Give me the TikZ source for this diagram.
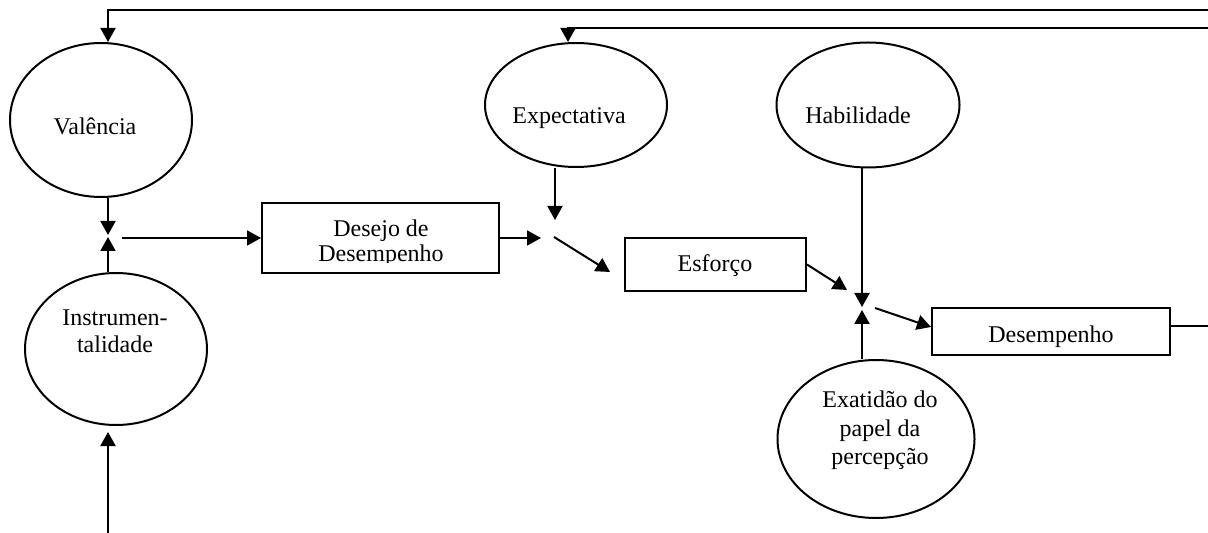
\documentclass[tikz,border=0pt]{standalone}
\usepackage{fontspec}
\setmainfont{Liberation Serif}
\usetikzlibrary{shapes.geometric,arrows.meta}
\begin{document}
\begin{tikzpicture}[x=0.5pt,y=-0.5pt,
  line width=1pt,
  oval/.style={draw,ellipse,inner sep=0pt},
  box/.style={draw,rectangle,inner sep=0pt},
  lbl/.style={font=\fontsize{12}{13.5}\selectfont,align=center,inner sep=0pt,anchor=base},
  arr/.style={-{Triangle[length=7pt,width=7.5pt]}}]
\useasboundingbox (0,0) rectangle (1208,533);
% shapes
\node[oval,minimum width=91pt,minimum height=77pt] (val) at (101,120) {};
\node[oval,minimum width=91pt,minimum height=76pt] (ins) at (116,349) {};
\node[oval,minimum width=91pt,minimum height=62pt] (exp) at (576,105) {};
\node[oval,minimum width=91.5pt,minimum height=62.5pt] (hab) at (868,105) {};
\node[oval,minimum width=98.5pt,minimum height=79pt] (exa) at (876,439) {};
\node[box,minimum width=118.5pt,minimum height=35pt] (dd) at (380.5,238) {};
\node[box,minimum width=90.5pt,minimum height=26.5pt] (esf) at (715.5,264.5) {};
\node[box,minimum width=119pt,minimum height=23.5pt] (des) at (1051,331.5) {};
% texts (multi-line: anchor at last baseline)
\node[lbl] (valt) at (95,135) {Valência};
\node[lbl] (inst) at (115,353) {Instrumen-\\talidade};
\node[lbl] (expt) at (569,124) {Expectativa};
\node[lbl] (habt) at (858,124) {Habilidade};
\node[lbl] (esft) at (715,272) {Esforço};
\node[lbl] (dest) at (1051,343) {Desempenho};
\node[lbl,font=\fontsize{12}{14.25}\selectfont] (exat) at (880,465) {Exatidão do\\papel da\\percepção};
\begin{scope}
\clip (262,203) rectangle (499,263);
\node[lbl,font=\fontsize{12}{12.5}\selectfont] (ddt) at (381,262) {Desejo de\\Desempenho};
\end{scope}
% feedback lines
\coordinate (r1) at (1208,10);
\coordinate (t1) at (108,10);
\coordinate (r2) at (1208,28);
\coordinate (t2) at (568,28);
\draw[arr] (r1) -- (t1) -- (t1 |- val.north);
\draw[arr] (r2) -- (t2) -- (t2 |- exp.north);
% junction 1
\coordinate (j1a) at (108,235);
\coordinate (j1b) at (108,237);
\coordinate (o1) at (122,238);
\draw[arr] (val.south -| j1a) -- (j1a);
\draw[arr] (ins.north -| j1b) -- (j1b);
\draw[arr] (o1) -- (dd.west);
\coordinate (b1) at (108,533);
\coordinate (i1) at (108,432);
\draw[arr] (b1) -- (i1);
% junction 2
\coordinate (j2a) at (541,238);
\coordinate (j2b) at (555,220);
\coordinate (o2) at (554,237);
\coordinate (e2) at (610,272);
\draw[arr] (dd.east) -- (j2a);
\draw[arr] (exp.south -| j2b) -- (j2b);
\draw[arr] (o2) -- (e2);
% junction 3
\coordinate (j3a) at (847,290);
\coordinate (j3b) at (862,307);
\coordinate (j3c) at (862,310);
\coordinate (o3) at (875,308);
\draw[arr] (esf.east) -- (j3a);
\draw[arr] (hab.south -| j3b) -- (j3b);
\draw[arr] (exa.north -| j3c) -- (j3c);
\draw[arr] (o3) -- (des.west |- 0,327);
\coordinate (r3) at (1208,326);
\draw (des.east |- r3) -- (r3);
\end{tikzpicture}
\end{document}
